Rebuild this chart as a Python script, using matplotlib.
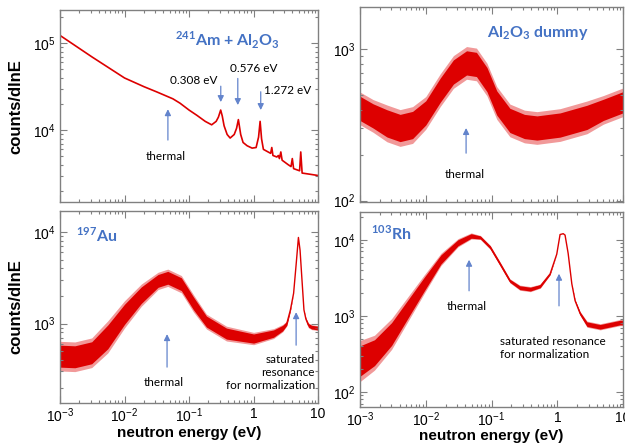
import matplotlib
matplotlib.use('Agg')
import numpy as np
import matplotlib.pyplot as plt
from matplotlib.ticker import LogLocator, NullFormatter

plt.rcParams['font.family'] = 'Liberation Sans'
plt.rcParams['mathtext.fontset'] = 'custom'
plt.rcParams['mathtext.rm'] = 'Liberation Sans'
plt.rcParams['mathtext.it'] = 'Liberation Sans:italic'
plt.rcParams['mathtext.bf'] = 'Lato:bold'

# ---------------------------
# data
# ---------------------------
xticks = [1e-3, 1e-2, 1e-1, 1, 10]
xtick_labels = ['10$^{-3}$', '10$^{-2}$', '10$^{-1}$', '1', '10']

# 241Am + Al2O3 : smooth spectrum with resonances
am_energy = [0.001, 0.00316, 0.01, 0.02, 0.0316, 0.0562, 0.0724, 0.1, 0.132, 0.178,
             0.224, 0.263, 0.285, 0.309, 0.327, 0.349, 0.389, 0.433, 0.501, 0.545,
             0.581, 0.631, 0.687, 0.794, 0.948, 1.094, 1.194, 1.262, 1.33, 1.419,
             1.679, 1.837, 1.914, 1.995, 2.291, 2.421, 2.512, 2.642, 2.767, 3.428,
             3.80, 3.98, 4.17, 5.16, 5.38, 5.65, 7.52, 10.0]
am_counts = [123000, 69200, 39800, 31600, 27500, 22900, 20400, 17000, 14800, 12600,
             11500, 12600, 14100, 17000, 14500, 11200, 8900, 8100, 8900, 10500,
             13200, 8900, 7200, 6600, 6200, 6300, 8300, 12600, 7900, 6000,
             5600, 5400, 6300, 5100, 4900, 5100, 4700, 5600, 4500, 4000,
             3800, 4700, 3600, 3400, 5600, 3200, 3100, 3000]

# Al2O3 dummy : centre of the noisy band and its half width (dex)
dummy_energy = [0.001, 0.00158, 0.00257, 0.00407, 0.0063, 0.01, 0.0166, 0.0263, 0.0417,
                0.0589, 0.0851, 0.12, 0.19, 0.316, 0.49, 1.1, 2.82, 5.01, 10.0]
dummy_counts = [407, 363, 324, 302, 316, 380, 537, 708, 813,
                794, 631, 442, 339, 309, 302, 316, 355, 398, 447]
dummy_spread = [0.08, 0.08, 0.09, 0.09, 0.09, 0.08, 0.08, 0.08, 0.08,
                0.08, 0.08, 0.08, 0.08, 0.08, 0.08, 0.08, 0.08, 0.07, 0.07]

# 197Au
au_energy = [0.001, 0.0017, 0.0031, 0.0055, 0.01, 0.0182, 0.0331, 0.0468, 0.0759,
             0.117, 0.186, 0.38, 1.0, 2.04, 2.82, 3.27, 3.72, 4.17, 4.57, 4.95,
             5.25, 5.58, 6.03, 6.46, 7.08, 7.94, 10.0]
au_counts = [440, 433, 479, 714, 1260, 2040, 2920, 3160, 2690,
             1660, 1050, 776, 685, 776, 890, 1000, 1410, 2140, 4470, 8710,
             6310, 3240, 1410, 1120, 955, 912, 891]
au_spread = [0.12, 0.12, 0.12, 0.13, 0.11, 0.09, 0.07, 0.07, 0.07,
             0.07, 0.06, 0.06, 0.05, 0.04, 0.03, 0.02, 0.01, 0.0, 0.0, 0.0,
             0.0, 0.0, 0.0, 0.01, 0.02, 0.02, 0.02]

# 103Rh
rh_energy = [0.001, 0.00166, 0.00302, 0.00537, 0.00955, 0.017, 0.0309, 0.049, 0.0676,
             0.0955, 0.135, 0.19, 0.269, 0.389, 0.55, 0.776, 0.98, 1.10, 1.23, 1.31,
             1.46, 1.66, 1.86, 2.22, 2.82, 4.47, 8.91, 10.0]
rh_counts = [254, 327, 575, 1230, 2630, 5500, 9120, 11200, 10700,
             7940, 4790, 2880, 2340, 2240, 2450, 3550, 6460, 11700, 12000, 11500,
             6610, 2630, 1580, 1070, 776, 716, 813, 813]
rh_spread = [0.2, 0.17, 0.15, 0.12, 0.09, 0.06, 0.04, 0.03, 0.02,
             0.02, 0.02, 0.02, 0.025, 0.025, 0.02, 0.01, 0.0, 0.0, 0.0, 0.0,
             0.0, 0.0, 0.01, 0.02, 0.03, 0.03, 0.03, 0.03]

red = '#dd0000'
blue = '#4472c4'
arrow_blue = '#6384cc'
frame = '#808080'


def style_axis(ax, ylim, show_x):
    ax.set_xscale('log')
    ax.set_yscale('log')
    ax.set_xlim(1e-3, 10)
    ax.set_ylim(*ylim)
    ax.xaxis.set_minor_locator(LogLocator(base=10, subs=np.arange(2, 10), numticks=20))
    ax.yaxis.set_minor_locator(LogLocator(base=10, subs=np.arange(2, 10), numticks=20))
    ax.yaxis.set_minor_formatter(NullFormatter())
    ax.xaxis.set_minor_formatter(NullFormatter())
    ax.tick_params(which='both', direction='in', top=True, right=True,
                   color=frame, labelsize=10, width=0.8)
    ax.tick_params(which='major', length=5)
    ax.tick_params(which='minor', length=2.5)
    ax.tick_params(axis='x', pad=2.5)
    for s in ax.spines.values():
        s.set_color(frame)
        s.set_linewidth(1.0)
    if show_x:
        ax.set_xticks(xticks, xtick_labels)
        ax.set_xlabel('neutron energy (eV)', fontsize=11, fontweight='bold')
    else:
        ax.set_xticks(xticks, [''] * len(xticks))


def noisy_band(ax, e, c, s):
    e = np.array(e)
    c = np.array(c, dtype=float)
    s = np.array(s)
    ax.fill_between(e, c / 10 ** (1.35 * s), c * 10 ** (1.35 * s), color=red, alpha=0.4, lw=0)
    ax.fill_between(e, c / 10 ** s, c * 10 ** s, color=red, lw=0)
    ax.plot(e, c, color=red, lw=1.0)


def arrow(ax, tail, head):
    ax.annotate('', xy=head, xytext=tail,
                arrowprops=dict(arrowstyle='-|>', color=arrow_blue, lw=0.9,
                                mutation_scale=9, shrinkA=0, shrinkB=0))


note = dict(fontsize=8.5, family='Lato', color='black')
head_font = dict(fontsize=11.5, family='Lato', fontweight='bold', color=blue)

fig = plt.figure(figsize=(6.25, 4.43), dpi=100)
ax_tl = fig.add_axes([0.096, 0.544, 0.413, 0.433])
ax_tr = fig.add_axes([0.576, 0.544, 0.421, 0.440])
ax_bl = fig.add_axes([0.096, 0.090, 0.413, 0.434])
ax_br = fig.add_axes([0.576, 0.081, 0.421, 0.440])

# ---- 241Am + Al2O3 ----
ax_tl.plot(am_energy, am_counts, color=red, lw=1.2)
style_axis(ax_tl, (1486, 2.4e5), False)
ax_tl.set_ylabel('counts/dlnE', fontsize=12, fontweight='bold')
ax_tl.yaxis.set_label_coords(-0.14, 0.5)
ax_tl.text(0.65, 0.845, r'$^{\mathbf{241}}$Am + Al$_{\mathbf{2}}$O$_{\mathbf{3}}$',
           transform=ax_tl.transAxes, ha='center', va='center', **head_font)
arrow(ax_tl, (0.047, 7680), (0.047, 17400))
ax_tl.text(0.044, 5000, 'thermal', ha='center', va='center', **note)
arrow(ax_tl, (0.31, 32000), (0.31, 21000))
arrow(ax_tl, (0.569, 39300), (0.569, 19400))
arrow(ax_tl, (1.29, 27600), (1.29, 17000))
ax_tl.text(0.12, 37600, '0.308 eV', ha='center', va='center', **note)
ax_tl.text(1.02, 50500, '0.576 eV', ha='center', va='center', **note)
ax_tl.text(3.37, 28900, '1.272 eV', ha='center', va='center', **note)

# ---- Al2O3 dummy ----
noisy_band(ax_tr, dummy_energy, dummy_counts, dummy_spread)
style_axis(ax_tr, (98, 1.9e3), False)
ax_tr.text(0.677, 0.867, r'Al$_{\mathbf{2}}$O$_{\mathbf{3}}$ dummy',
           transform=ax_tr.transAxes, ha='center', va='center', **head_font)
arrow(ax_tr, (0.041, 206), (0.041, 302))
ax_tr.text(0.039, 149, 'thermal', ha='center', va='center', **note)

# ---- 197Au ----
noisy_band(ax_bl, au_energy, au_counts, au_spread)
style_axis(ax_bl, (135, 1.7e4), True)
ax_bl.set_ylabel('counts/dlnE', fontsize=12, fontweight='bold')
ax_bl.yaxis.set_label_coords(-0.14, 0.5)
ax_bl.xaxis.set_label_coords(0.5, -0.118)
ax_bl.text(0.143, 0.875, r'$^{\mathbf{197}}$Au',
           transform=ax_bl.transAxes, ha='center', va='center', **head_font)
arrow(ax_bl, (0.0456, 334), (0.0456, 766))
ax_bl.text(0.041, 229, 'thermal', ha='center', va='center', **note)
arrow(ax_bl, (4.56, 580), (4.56, 1330))
ax_bl.text(8.97, 470, 'saturated\nresonance\nfor normalization', ha='right', va='top',
           multialignment='right', linespacing=1.25, **note)

# ---- 103Rh ----
noisy_band(ax_br, rh_energy, rh_counts, rh_spread)
style_axis(ax_br, (63, 2.3e4), True)
ax_br.xaxis.set_label_coords(0.5, -0.11)
ax_br.text(0.118, 0.892, r'$^{\mathbf{103}}$Rh',
           transform=ax_br.transAxes, ha='center', va='center', **head_font)
arrow(ax_br, (0.0455, 2130), (0.0455, 5450))
ax_br.text(0.0425, 1310, 'thermal', ha='center', va='center', **note)
arrow(ax_br, (1.06, 1350), (1.06, 3570))
ax_br.text(0.135, 545, 'saturated resonance\nfor normalization', ha='left', va='top',
           linespacing=1.25, **note)

fig.savefig('out.png', dpi=100)
